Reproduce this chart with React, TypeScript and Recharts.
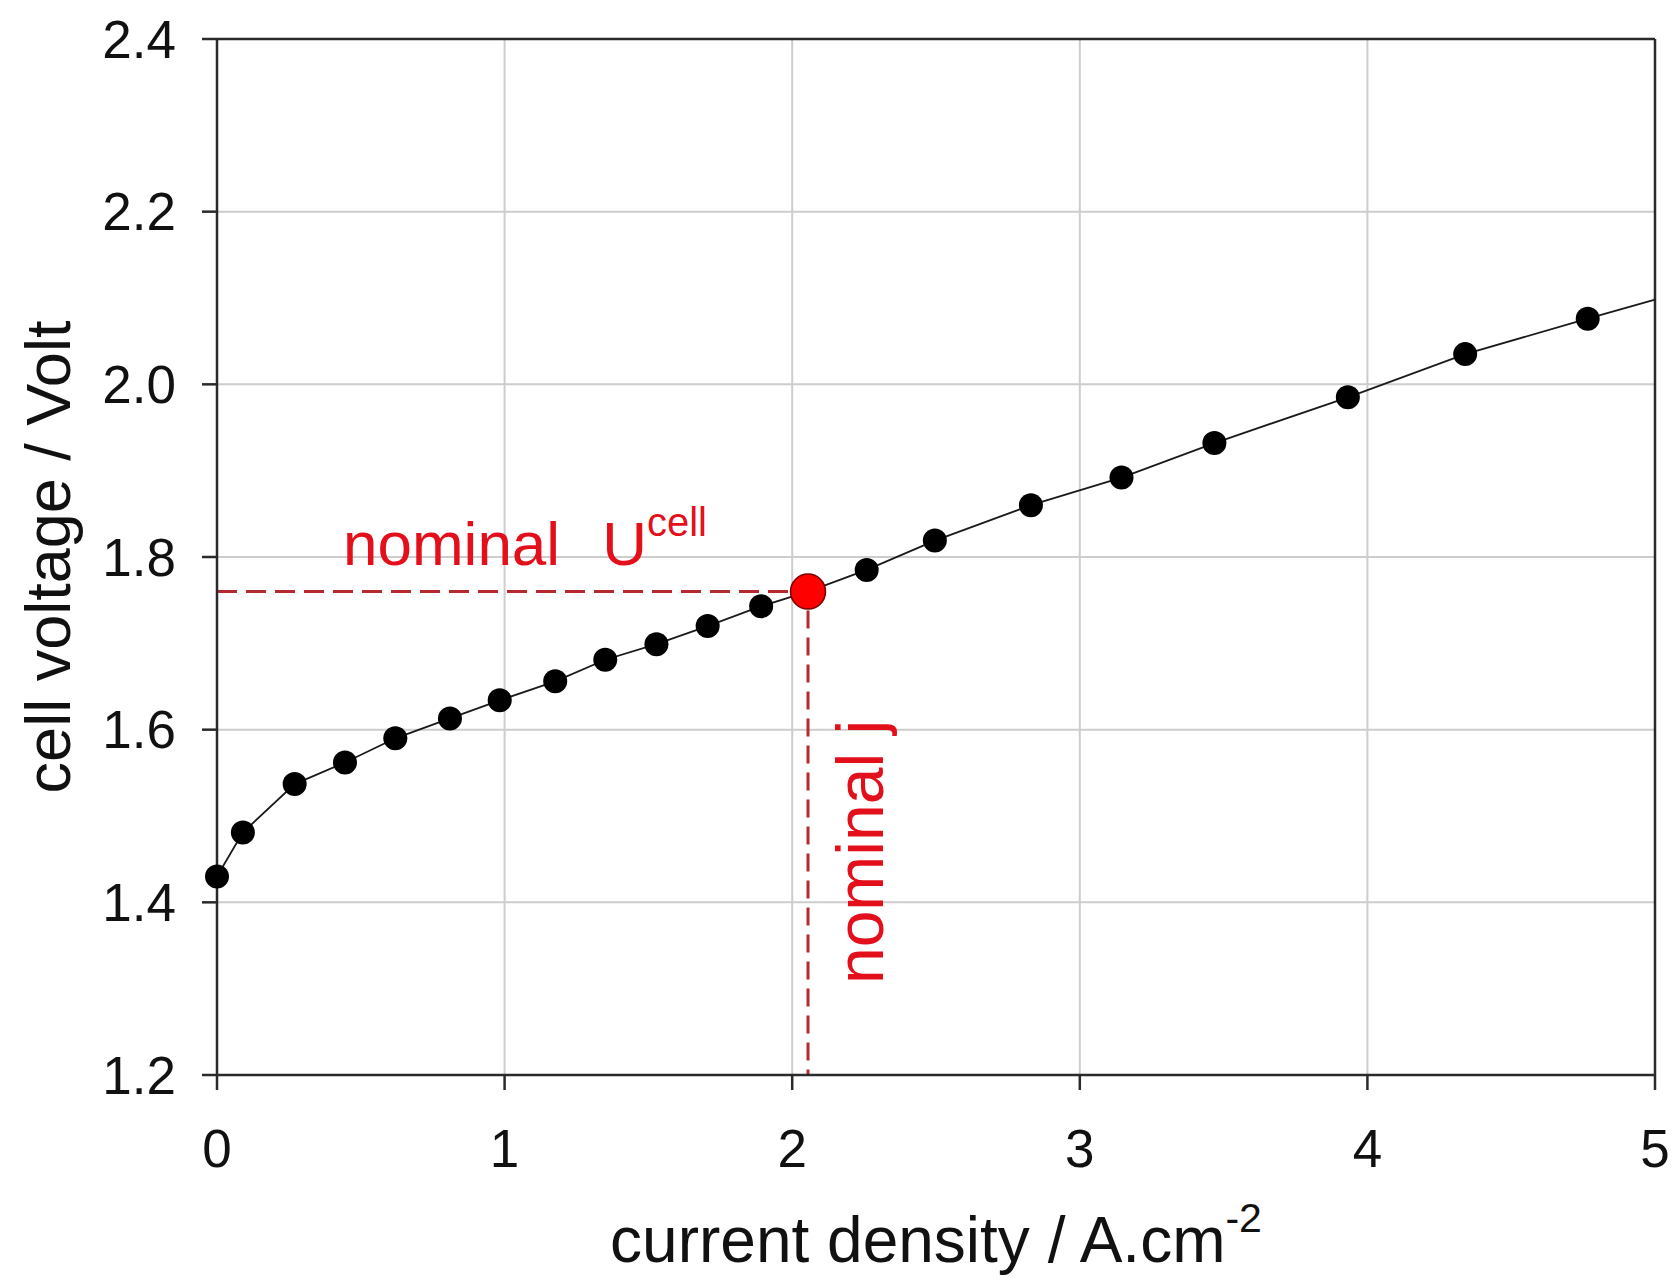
import {
  LineChart, Line, XAxis, YAxis, CartesianGrid, ReferenceLine,
} from 'recharts';

// polarisation curve: current density (A/cm2) vs cell voltage (V)
const currentDensity = [0, 0.09, 0.27, 0.445, 0.62, 0.81, 0.983, 1.176, 1.35, 1.528, 1.706, 1.892, 2.055, 2.259, 2.496, 2.83, 3.145, 3.468, 3.932, 4.34, 4.766];
const cellVoltage = [1.43, 1.481, 1.537, 1.562, 1.59, 1.613, 1.634, 1.656, 1.681, 1.699, 1.72, 1.743, 1.76, 1.785, 1.819, 1.86, 1.892, 1.932, 1.985, 2.035, 2.076];

// fitted curve carries on past the last measurement to the axis end
const curveEndJ = 5;
const curveEndU = 2.098;

// nominal operating point
const nominalJ = 2.055;
const nominalU = 1.76;

const xTicks = [0, 1, 2, 3, 4, 5];
const yTicks = [1.2, 1.4, 1.6, 1.8, 2.0, 2.2, 2.4];

const data = [
  ...currentDensity.map((j, i) => ({ j, u: cellVoltage[i] })),
  { j: curveEndJ, u: curveEndU, fitOnly: true },
];

const FONT = '"Liberation Sans", Arial, sans-serif';
const RED = '#e3101c';
const DASH_RED = '#b42a2e';
const AXIS = '#2a2a2a';

const renderDot = (props: any) => {
  const { cx, cy, index, payload } = props;
  if (payload.fitOnly) return <g key={`d${index}`} />;
  if (payload.j === nominalJ) {
    return <circle key={`d${index}`} cx={cx} cy={cy} r={17.5} fill="#ff0000" stroke="#7a0000" strokeWidth={1.5} />;
  }
  return <circle key={`d${index}`} cx={cx} cy={cy} r={12} fill="#000" stroke="none" />;
};

export default function App() {
  return (
    <div style={{ position: 'absolute', left: 0, top: 0, background: '#fff' }}>
      <LineChart
        width={1673}
        height={1282}
        data={data}
        margin={{ top: 39, right: 18, left: 0, bottom: 87 }}
      >
        <CartesianGrid stroke="#cdcdcd" strokeWidth={2} />
        <XAxis
          dataKey="j"
          type="number"
          domain={[0, 5]}
          ticks={xTicks}
          height={120}
          stroke={AXIS}
          strokeWidth={2.5}
          tickSize={15}
          tickMargin={39}
          tick={{ fontSize: 53, fill: '#111', fontFamily: FONT }}
          label={{
            content: ({ viewBox }: any) => (
              <text
                x={viewBox.x + viewBox.width / 2}
                y={viewBox.y + 187}
                textAnchor="middle"
                fontSize={64}
                fontFamily={FONT}
                fill="#111"
              >
                current density / A.cm
                <tspan dy={-30} fontSize={41}>-2</tspan>
              </text>
            ),
          }}
        />
        <YAxis
          type="number"
          domain={[1.2, 2.4]}
          ticks={yTicks}
          width={217}
          stroke={AXIS}
          strokeWidth={2.5}
          tickSize={15}
          tickMargin={26}
          tickFormatter={(v: number) => v.toFixed(1)}
          tick={{ fontSize: 53, fill: '#111', fontFamily: FONT }}
          label={{
            content: ({ viewBox }: any) => {
              const cy = viewBox.y + viewBox.height / 2;
              return (
                <text
                  x={48}
                  y={cy}
                  transform={`rotate(-90, 48, ${cy})`}
                  textAnchor="middle"
                  dominantBaseline="central"
                  fontSize={63}
                  fontFamily={FONT}
                  fill="#111"
                >
                  cell voltage / Volt
                </text>
              );
            },
          }}
        />
        {/* frame on top and right */}
        <ReferenceLine y={2.4} stroke={AXIS} strokeWidth={2.5} />
        <ReferenceLine x={5} stroke={AXIS} strokeWidth={2.5} />

        {/* guide lines to the nominal point */}
        <ReferenceLine
          segment={[{ x: 0, y: nominalU }, { x: nominalJ - 0.06, y: nominalU }]}
          stroke={DASH_RED}
          strokeWidth={3}
          strokeDasharray="20 9"
          label={{
            content: ({ viewBox }: any) => (
              <text x={viewBox.x + 126} y={viewBox.y - 27} fontSize={62} fontFamily={FONT} fill={RED}>
                nominal
                <tspan dx={42}>U</tspan>
                <tspan dy={-29} fontSize={40}>cell</tspan>
              </text>
            ),
          }}
        />
        <ReferenceLine
          segment={[{ x: nominalJ, y: nominalU - 0.022 }, { x: nominalJ, y: 1.2 }]}
          stroke={DASH_RED}
          strokeWidth={3}
          strokeDasharray="18 9"
          label={{
            content: ({ viewBox }: any) => {
              const x = viewBox.x + 52;
              const y = 852;
              return (
                <text
                  x={x}
                  y={y}
                  transform={`rotate(-90, ${x}, ${y})`}
                  textAnchor="middle"
                  dominantBaseline="central"
                  fontSize={66}
                  fontFamily={FONT}
                  fill={RED}
                >
                  nominal j
                </text>
              );
            },
          }}
        />

        <Line
          type="linear"
          dataKey="u"
          stroke="#1a1a1a"
          strokeWidth={1.8}
          dot={renderDot}
          activeDot={false}
          isAnimationActive={false}
        />
      </LineChart>
    </div>
  );
}
